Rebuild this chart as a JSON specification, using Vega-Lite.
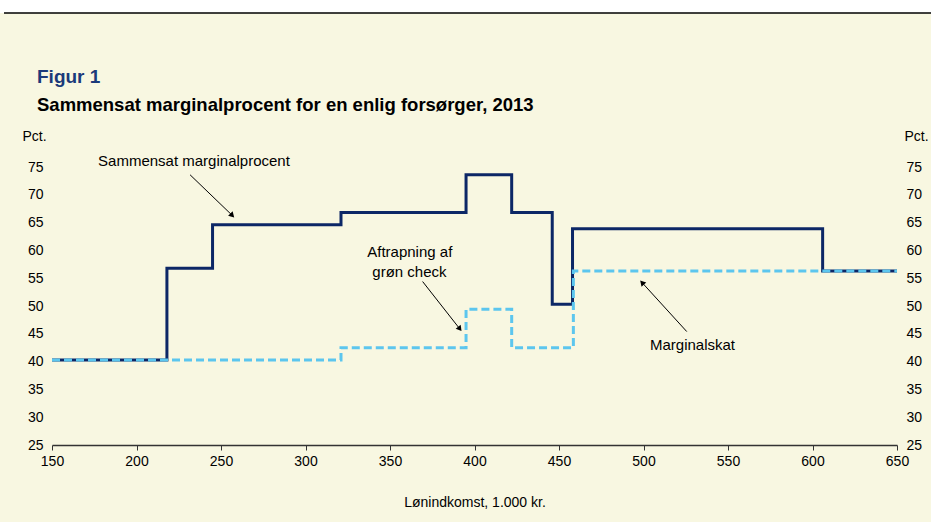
{
  "$schema": "https://vega.github.io/schema/vega-lite/v6.json",
  "width": 845,
  "height": 278,
  "autosize": {"type": "none"},
  "padding": {"left": 52, "right": 34, "top": 167, "bottom": 77},
  "background": "#F8F7E1",
  "config": {
    "view": {"stroke": null},
    "font": "Liberation Sans",
    "axisX": {
      "grid": false,
      "ticks": true,
      "tickSize": 5,
      "tickColor": "#333333",
      "domainColor": "#333333",
      "domainWidth": 1.5,
      "labelFontSize": 14,
      "labelColor": "#000000",
      "labelPadding": 4,
      "labelFlush": false,
      "titleFontSize": 14,
      "titleFontWeight": "normal",
      "titleColor": "#000000",
      "titlePadding": 27
    },
    "axisY": {
      "grid": true,
      "gridColor": "#A8A8A8",
      "gridWidth": 1.2,
      "domain": false,
      "ticks": false,
      "labelFontSize": 14,
      "labelColor": "#000000",
      "labelPadding": 9,
      "labelFlush": false,
      "labelOverlap": false,
      "titleFontSize": 14,
      "titleFontWeight": "normal",
      "titleColor": "#000000",
      "titleAngle": 0
    }
  },
  "title": {
    "text": "Figur 1",
    "subtitle": "Sammensat marginalprocent for en enlig forsørger, 2013",
    "anchor": "start",
    "frame": "group",
    "dx": -15,
    "offset": -114.5,
    "font": "Liberation Sans",
    "fontSize": 19,
    "fontWeight": "bold",
    "color": "#1B3A7A",
    "subtitleFont": "Liberation Sans",
    "subtitleFontSize": 18.5,
    "subtitleFontWeight": "bold",
    "subtitleColor": "#000000",
    "subtitlePadding": 9
  },
  "datasets": {
    "samlet": [
      {"x": 150, "y": 40.3},
      {"x": 218, "y": 56.8},
      {"x": 245, "y": 64.6},
      {"x": 321, "y": 66.8},
      {"x": 395, "y": 73.6},
      {"x": 422, "y": 66.8},
      {"x": 446, "y": 50.3},
      {"x": 458, "y": 63.9},
      {"x": 606, "y": 56.3},
      {"x": 650, "y": 56.3}
    ],
    "skat": [
      {"x": 150, "y": 40.3},
      {"x": 321, "y": 42.5},
      {"x": 395, "y": 49.4},
      {"x": 422, "y": 42.5},
      {"x": 458.5, "y": 56.3},
      {"x": 650, "y": 56.3}
    ],
    "arrows": [
      {"name": "a1", "x": 231.7, "y": 73.6, "x2": 256.3, "y2": 66.4},
      {"name": "a2", "x": 369.3, "y": 54.4, "x2": 391.0, "y2": 46.0},
      {"name": "a3", "x": 525.6, "y": 45.4, "x2": 499.5, "y2": 54.1}
    ],
    "labels": [
      {"label": "Sammensat marginalprocent", "x": 234, "y": 76.1},
      {"label": "Aftrapning af", "x": 361.7, "y": 59.7},
      {"label": "grøn check", "x": 361.5, "y": 56.2},
      {"label": "Marginalskat", "x": 529, "y": 43.0}
    ]
  },
  "resolve": {"axis": {"y": "independent"}},
  "layer": [
    {
      "data": {"values": [{}]},
      "mark": {"type": "rect", "color": "#FFFFFF", "clip": false},
      "encoding": {
        "x": {"datum": 100, "type": "quantitative", "scale": {"domain": [150, 650], "nice": false}, "title": "Lønindkomst, 1.000 kr.",
              "axis": {"values": [150, 200, 250, 300, 350, 400, 450, 500, 550, 600, 650]}},
        "x2": {"datum": 700},
        "y": {"datum": 102.7, "type": "quantitative", "scale": {"domain": [25, 75], "nice": false}, "axis": null},
        "y2": {"datum": 105.04}
      }
    },
    {
      "data": {"values": [{}]},
      "mark": {"type": "rule", "color": "#000000", "strokeWidth": 1.5, "clip": false},
      "encoding": {
        "x": {"datum": 121.6, "type": "quantitative", "scale": {"domain": [150, 650], "nice": false}, "title": "Lønindkomst, 1.000 kr.",
              "axis": {"values": [150, 200, 250, 300, 350, 400, 450, 500, 550, 600, 650]}},
        "x2": {"datum": 700},
        "y": {"datum": 102.7, "type": "quantitative", "scale": {"domain": [25, 75], "nice": false}, "axis": null}
      }
    },
    {
      "data": {"name": "samlet"},
      "mark": {"type": "line", "interpolate": "step-after", "color": "#0C2766", "strokeWidth": 3},
      "encoding": {
        "x": {"field": "x", "type": "quantitative", "scale": {"domain": [150, 650], "nice": false}, "title": "Lønindkomst, 1.000 kr.",
              "axis": {"values": [150, 200, 250, 300, 350, 400, 450, 500, 550, 600, 650]}},
        "y": {"field": "y", "type": "quantitative", "scale": {"domain": [25, 75], "nice": false},
              "axis": {"orient": "left", "values": [25, 30, 35, 40, 45, 50, 55, 60, 65, 70, 75], "title": "Pct.", "titleAlign": "left", "titleX": -30, "titleY": -27, "titleBaseline": "alphabetic"}}
      }
    },
    {
      "data": {"name": "skat"},
      "mark": {"type": "line", "interpolate": "step-after", "color": "#5CC6EE", "strokeWidth": 3, "strokeDash": [8, 4]},
      "encoding": {
        "x": {"field": "x", "type": "quantitative", "scale": {"domain": [150, 650], "nice": false}, "title": "Lønindkomst, 1.000 kr.",
              "axis": {"values": [150, 200, 250, 300, 350, 400, 450, 500, 550, 600, 650]}},
        "y": {"field": "y", "type": "quantitative", "scale": {"domain": [25, 75], "nice": false},
              "axis": {"orient": "right", "values": [25, 30, 35, 40, 45, 50, 55, 60, 65, 70, 75], "title": "Pct.", "titleAlign": "left", "titleX": 7, "titleY": -27, "titleBaseline": "alphabetic"}}
      }
    },
    {
      "data": {"name": "arrows"},
      "mark": {"type": "rule", "color": "#000000", "strokeWidth": 1},
      "encoding": {
        "x": {"field": "x", "type": "quantitative", "scale": {"domain": [150, 650], "nice": false}, "title": "Lønindkomst, 1.000 kr."},
        "x2": {"field": "x2"},
        "y": {"field": "y", "type": "quantitative", "scale": {"domain": [25, 75], "nice": false}, "axis": null},
        "y2": {"field": "y2"}
      }
    },
    {
      "data": {"name": "arrows"},
      "transform": [{"filter": "datum.name === 'a1'"}],
      "mark": {"type": "point", "shape": "triangle", "filled": true, "color": "#000000", "size": 40, "angle": 136, "opacity": 1},
      "encoding": {
        "x": {"field": "x2", "type": "quantitative", "scale": {"domain": [150, 650], "nice": false}, "title": "Lønindkomst, 1.000 kr."},
        "y": {"field": "y2", "type": "quantitative", "scale": {"domain": [25, 75], "nice": false}, "axis": null}
      }
    },
    {
      "data": {"name": "arrows"},
      "transform": [{"filter": "datum.name === 'a2'"}],
      "mark": {"type": "point", "shape": "triangle", "filled": true, "color": "#000000", "size": 40, "angle": 142, "opacity": 1},
      "encoding": {
        "x": {"field": "x2", "type": "quantitative", "scale": {"domain": [150, 650], "nice": false}, "title": "Lønindkomst, 1.000 kr."},
        "y": {"field": "y2", "type": "quantitative", "scale": {"domain": [25, 75], "nice": false}, "axis": null}
      }
    },
    {
      "data": {"name": "arrows"},
      "transform": [{"filter": "datum.name === 'a3'"}],
      "mark": {"type": "point", "shape": "triangle", "filled": true, "color": "#000000", "size": 40, "angle": 318, "opacity": 1},
      "encoding": {
        "x": {"field": "x2", "type": "quantitative", "scale": {"domain": [150, 650], "nice": false}, "title": "Lønindkomst, 1.000 kr."},
        "y": {"field": "y2", "type": "quantitative", "scale": {"domain": [25, 75], "nice": false}, "axis": null}
      }
    },
    {
      "data": {"name": "labels"},
      "mark": {"type": "text", "fontSize": 15, "font": "Liberation Sans", "color": "#000000", "align": "center", "baseline": "middle"},
      "encoding": {
        "x": {"field": "x", "type": "quantitative", "scale": {"domain": [150, 650], "nice": false}, "title": "Lønindkomst, 1.000 kr."},
        "y": {"field": "y", "type": "quantitative", "scale": {"domain": [25, 75], "nice": false}, "axis": null},
        "text": {"field": "label"}
      }
    }
  ]
}
